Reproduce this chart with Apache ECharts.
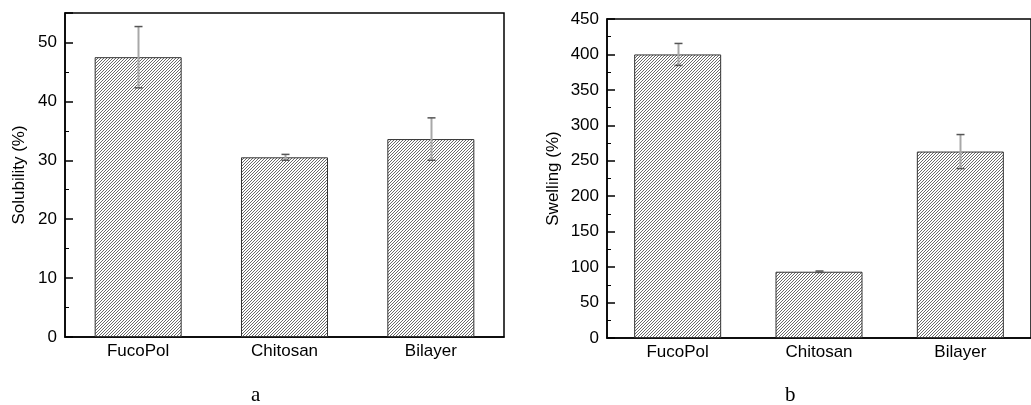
<!DOCTYPE html>
<html>
<head>
<meta charset="utf-8">
<script src="https://cdn.jsdelivr.net/npm/echarts@6/dist/echarts.min.js"></script>
<style>
  html, body { margin: 0; padding: 0; background: #fff; }
  #chart { width: 1031px; height: 405px; }
</style>
</head>
<body>
<div id="chart"></div>
<script>
  // 数据
  var categories = ['FucoPol', 'Chitosan', 'Bilayer']
  var solubility = [47.5, 30.5, 33.6]
  var solubilityErr = [5.2, 0.5, 3.6]
  var swelling = [400, 93.5, 263]
  var swellingErr = [15.5, 1, 24]

  // 斜线填充
  function hatchPattern () {
    var c = document.createElement('canvas')
    c.width = 3
    c.height = 3
    var ctx = c.getContext('2d')
    ctx.fillStyle = '#ffffff'
    ctx.fillRect(0, 0, 3, 3)
    ctx.fillStyle = '#6a6a6a'
    ctx.fillRect(0, 2, 1, 1)
    ctx.fillRect(1, 1, 1, 1)
    ctx.fillRect(2, 0, 1, 1)
    return { image: c, repeat: 'repeat' }
  }

  function errorData (vals, errs) {
    return vals.map(function (v, i) {
      return [i, v - errs[i], v + errs[i]]
    })
  }

  function renderError (params, api) {
    var x = api.value(0)
    var lo = api.coord([x, api.value(1)])
    var hi = api.coord([x, api.value(2)])
    var cx = Math.round(lo[0]) + 0.5
    var cap = 4
    return {
      type: 'group',
      children: [
        { type: 'line', shape: { x1: cx, y1: lo[1], x2: cx, y2: hi[1] }, style: { stroke: '#a8a8a8', lineWidth: 2 } },
        { type: 'line', shape: { x1: cx - cap, y1: hi[1], x2: cx + cap, y2: hi[1] }, style: { stroke: '#555', lineWidth: 1.5 } },
        { type: 'line', shape: { x1: cx - cap, y1: lo[1], x2: cx + cap, y2: lo[1] }, style: { stroke: '#555', lineWidth: 1.5 } }
      ]
    }
  }

  var font = 'Liberation Sans, Arial, sans-serif'
  var pattern = hatchPattern()

  function xAxisCfg (gridIndex) {
    return {
      type: 'category',
      gridIndex: gridIndex,
      data: categories,
      axisLine: { lineStyle: { color: '#000', width: 1.5 } },
      axisTick: { show: false },
      axisLabel: { color: '#000', fontSize: 17, fontFamily: font, margin: 6 },
      splitLine: { show: false }
    }
  }

  function yAxisCfg (gridIndex, max, interval, name, nameGap) {
    return {
      type: 'value',
      gridIndex: gridIndex,
      min: 0,
      max: max,
      interval: interval,
      name: name,
      nameLocation: 'middle',
      nameGap: nameGap,
      nameTextStyle: { color: '#000', fontSize: 17, fontFamily: font },
      axisLine: { show: true, lineStyle: { color: '#000', width: 1.5 } },
      // 刻度朝内
      axisTick: { show: true, length: -8, lineStyle: { color: '#000', width: 1.5 } },
      minorTick: { show: true, splitNumber: 2, length: -4, lineStyle: { color: '#000', width: 1 } },
      axisLabel: { color: '#000', fontSize: 17, fontFamily: font, margin: 8, showMaxLabel: max % interval === 0 },
      splitLine: { show: false }
    }
  }

  var chart = echarts.init(document.getElementById('chart'))
  var option = {
    animation: false,
    grid: [
      { left: 65, top: 13, width: 439, height: 324, show: true, borderColor: '#000', borderWidth: 1.5 },
      { left: 607, top: 19, width: 433, height: 319, show: true, borderColor: '#000', borderWidth: 1.5 }
    ],
    xAxis: [xAxisCfg(0), xAxisCfg(1)],
    yAxis: [
      yAxisCfg(0, 55, 10, 'Solubility (%)', 37),
      yAxisCfg(1, 450, 50, 'Swelling (%)', 45)
    ],
    graphic: [
      { type: 'text', left: 251, top: 385, style: { text: 'a', font: '21px "Liberation Serif", serif', fill: '#000' } },
      { type: 'text', left: 785, top: 385, style: { text: 'b', font: '21px "Liberation Serif", serif', fill: '#000' } }
    ],
    series: [
      {
        type: 'bar', xAxisIndex: 0, yAxisIndex: 0, data: solubility, barWidth: 87,
        itemStyle: { color: pattern, borderColor: '#333', borderWidth: 1 }
      },
      {
        type: 'custom', xAxisIndex: 0, yAxisIndex: 0, data: errorData(solubility, solubilityErr),
        renderItem: renderError, z: 5
      },
      {
        type: 'bar', xAxisIndex: 1, yAxisIndex: 1, data: swelling, barWidth: 87,
        itemStyle: { color: pattern, borderColor: '#333', borderWidth: 1 }
      },
      {
        type: 'custom', xAxisIndex: 1, yAxisIndex: 1, data: errorData(swelling, swellingErr),
        renderItem: renderError, z: 5
      }
    ]
  }
  chart.setOption(option)
</script>
</body>
</html>
